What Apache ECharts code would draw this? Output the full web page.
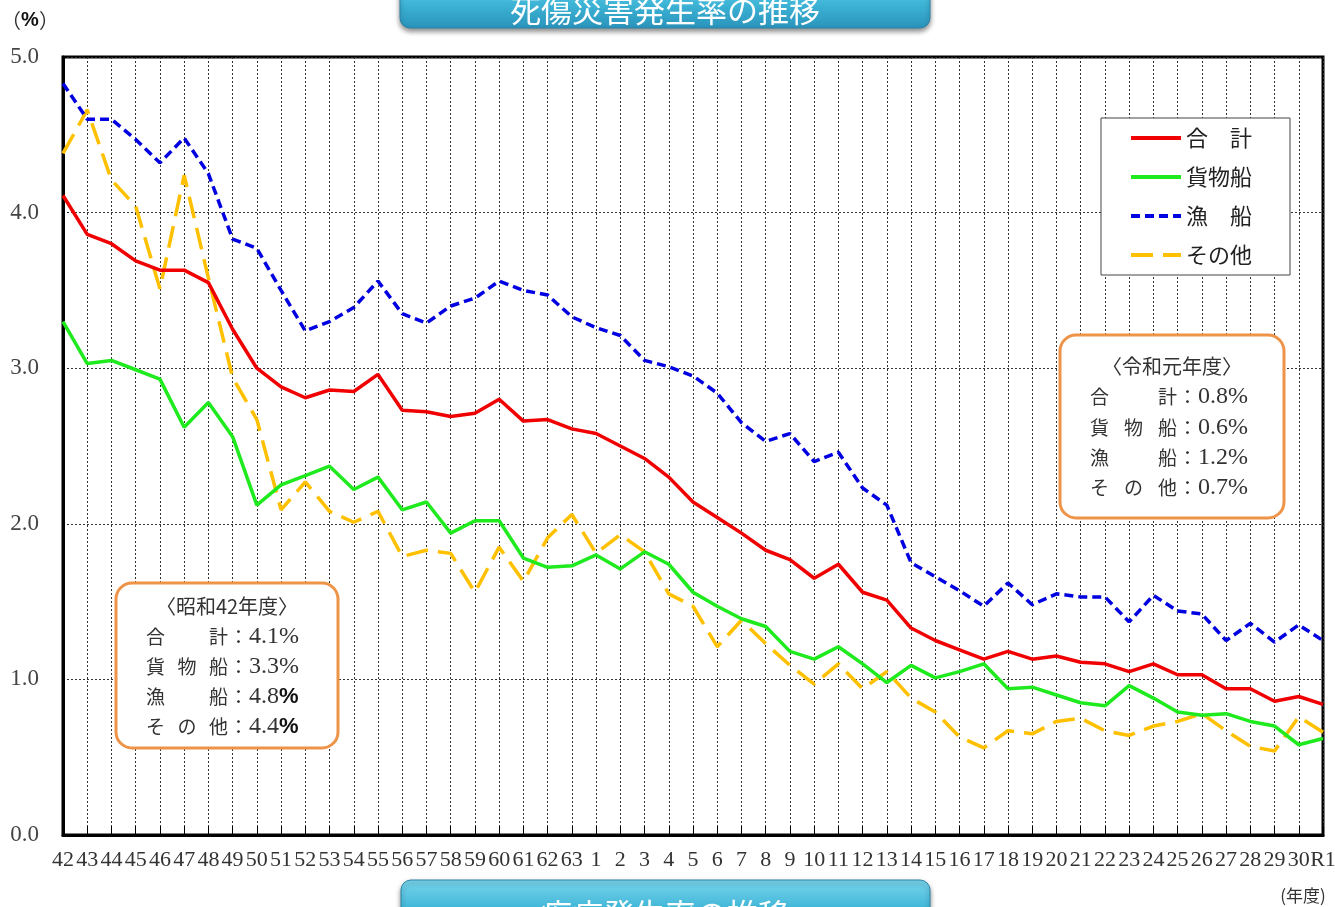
<!DOCTYPE html>
<html><head><meta charset="utf-8">
<script src="https://cdn.jsdelivr.net/npm/echarts@6/dist/echarts.min.js"></script>
<style>html,body{margin:0;padding:0;background:#fff}#c{width:1335px;height:907px}</style>
</head><body><div id="c"></div>
<script>
// x-axis categories (年度): 昭和42〜63, 平成1〜30, 令和元年
const categories = ['42','43','44','45','46','47','48','49','50','51','52','53','54','55','56','57','58','59','60','61','62','63',
  '1','2','3','4','5','6','7','8','9','10','11','12','13','14','15','16','17','18','19','20','21','22','23','24','25','26','27','28','29','30','R1'];

const seriesNames = ['合　計', '貨物船', '漁　船', 'その他'];

const totalRate = [4.11,3.86,3.80,3.69,3.63,3.63,3.55,3.25,3.00,2.88,2.81,2.86,2.85,2.96,2.73,2.72,2.69,2.71,2.80,2.66,2.67,2.61,
  2.58,2.50,2.42,2.30,2.14,2.04,1.94,1.83,1.77,1.65,1.74,1.56,1.51,1.33,1.25,1.19,1.13,1.18,1.13,1.15,1.11,1.10,1.05,1.10,1.03,1.03,0.94,0.94,0.86,0.89,0.84];
const cargoRate = [3.30,3.03,3.05,2.99,2.93,2.62,2.78,2.56,2.12,2.25,2.31,2.37,2.22,2.30,2.09,2.14,1.94,2.02,2.02,1.78,1.72,1.73,
  1.80,1.71,1.82,1.74,1.56,1.47,1.39,1.34,1.18,1.13,1.21,1.10,0.98,1.09,1.01,1.05,1.10,0.94,0.95,0.90,0.85,0.83,0.96,0.88,0.79,0.77,0.78,0.73,0.70,0.58,0.62];
const fishingRate = [4.83,4.60,4.60,4.47,4.32,4.48,4.25,3.83,3.77,3.50,3.24,3.30,3.39,3.56,3.35,3.29,3.40,3.45,3.56,3.50,3.47,3.33,
  3.26,3.21,3.05,3.01,2.95,2.84,2.65,2.53,2.58,2.40,2.46,2.23,2.12,1.75,1.66,1.57,1.47,1.62,1.48,1.55,1.53,1.53,1.37,1.54,1.44,1.42,1.25,1.36,1.24,1.35,1.25];
const otherRate = [4.38,4.66,4.21,4.04,3.51,4.24,3.58,2.94,2.67,2.09,2.27,2.08,2.01,2.08,1.79,1.83,1.81,1.56,1.85,1.63,1.91,2.06,
  1.81,1.93,1.82,1.55,1.47,1.21,1.38,1.23,1.09,0.97,1.10,0.94,1.05,0.88,0.79,0.63,0.56,0.67,0.65,0.73,0.75,0.67,0.64,0.70,0.73,0.78,0.67,0.57,0.54,0.76,0.66];

// text boxes
const boxR1Title = '〈令和元年度〉';
const boxR1Labels = ['合　　　計', '貨　物　船', '漁　　　船', 'そ　の　他'];
const boxR1Values = ['0.8', '0.6', '1.2', '0.7'];
const boxS42Title = '〈昭和42年度〉';
const boxS42Labels = ['合　　　計', '貨　物　船', '漁　　　船', 'そ　の　他'];
const boxS42Values = ['4.1', '3.3', '4.8', '4.4'];
const boxS42BoldPct = [false, false, true, true];

const mainTitle = '死傷災害発生率の推移';
const nextTitle = '疾病発生率の推移';

const CJK = "'Noto Sans CJK JP', sans-serif";
const SERIF = "'Liberation Serif', 'DejaVu Serif', serif";

function txt(text, x, y, font, fill, align, vAlign, extra) {
  return Object.assign({
    type: 'text', z: 100,
    style: { text: text, x: x, y: y, font: font, fill: fill,
      textAlign: align, textVerticalAlign: vAlign, align: align, verticalAlign: vAlign }
  }, extra || {});
}

function infoBox(x, y, w, h, title, labels, values, boldPct, lineYs, titleY, textX, step) {
  const els = [{
    type: 'rect', z: 90,
    shape: { x: x, y: y, width: w, height: h, r: 16 },
    style: { fill: '#fff', stroke: '#EE9448', lineWidth: 3 }
  }];
  els.push(txt(title, x + w / 2, titleY, '20px ' + CJK, '#333', 'center', 'middle'));
  labels.forEach(function (lb, i) {
    const parts = lb.split(/　+/);
    let s = '';
    if (parts.length === 3) {
      s = '{k|' + parts[0] + '}{k|' + parts[1] + '}{e|' + parts[2] + '}';
    } else {
      s = '{kk|' + parts[0] + '}{e|' + parts[1] + '}';
    }
    s += '{c|：}{v|' + values[i] + '}' + (boldPct[i] ? '{p|%}' : '{v|%}');
    els.push({
      type: 'text', z: 100,
      style: {
        text: s,
        x: textX, y: lineYs[i], align: 'left', verticalAlign: 'middle', textAlign: 'left', textVerticalAlign: 'middle',
        rich: {
          k: { fontFamily: CJK, fontSize: 19, fill: '#333', color: '#333', width: step },
          kk: { fontFamily: CJK, fontSize: 19, fill: '#333', color: '#333', width: step * 2 },
          e: { fontFamily: CJK, fontSize: 19, fill: '#333', color: '#333', width: 20 },
          c: { fontFamily: CJK, fontSize: 19, fill: '#333', color: '#333', width: 20 },
          v: { fontFamily: SERIF, fontSize: 24, fill: '#333', color: '#333' },
          p: { fontFamily: "'Liberation Sans', sans-serif", fontWeight: 'bold', fontSize: 22, fill: '#111', color: '#111' }
        }
      }
    });
  });
  return els;
}

const bannerFill = {
  type: 'linear', x: 0, y: 0, x2: 0, y2: 1,
  colorStops: [{ offset: 0, color: '#7AD6EE' }, { offset: 0.5, color: '#3DB4D6' }, { offset: 1, color: '#2A93BB' }]
};

const graphics = [
  { type: 'rect', z: 80, shape: { x: 400, y: -20, width: 530, height: 48, r: 10 },
    style: { fill: bannerFill, stroke: '#2A86A8', lineWidth: 1, shadowBlur: 5, shadowColor: 'rgba(0,0,0,0.45)', shadowOffsetY: 3 } },
  txt(mainTitle, 665, 10, '31px ' + CJK, '#fff', 'center', 'middle'),
  { type: 'rect', z: 80, shape: { x: 401, y: 880, width: 529, height: 60, r: 10 },
    style: { fill: bannerFill, stroke: '#2A86A8', lineWidth: 1, shadowBlur: 5, shadowColor: 'rgba(0,0,0,0.45)', shadowOffsetY: 3 } },
  txt(nextTitle, 665, 914, '31px ' + CJK, '#fff', 'center', 'middle'),
  {
    type: 'text', z: 100,
    style: { text: '{a|（}{b|%}{a|）}', x: 30, y: 20, align: 'center', verticalAlign: 'middle', textAlign: 'center', textVerticalAlign: 'middle',
      rich: { a: { fontFamily: CJK, fontSize: 20, fill: '#333', color: '#333' },
              b: { fontFamily: "'Liberation Sans', sans-serif", fontWeight: 'bold', fontSize: 20, fill: '#111', color: '#111' } } }
  },
  txt('(年度)', 1303, 896, '17px ' + CJK, '#333', 'center', 'middle')
].concat(
  infoBox(1060, 335, 224, 183, boxR1Title, boxR1Labels, boxR1Values, [false, false, false, false], [397, 428, 458, 488], 366, 1090, 34),
  infoBox(116, 583, 222, 165, boxS42Title, boxS42Labels, boxS42Values, boxS42BoldPct, [637, 667, 697, 727], 606, 146, 31.5)
);

const chart = echarts.init(document.getElementById('c'), null, { renderer: 'canvas' });
chart.setOption({
  animation: false,
  backgroundColor: '#fff',
  grid: { left: 63, right: 12, top: 57, bottom: 72, show: true, borderColor: '#000', borderWidth: 3, outerBoundsMode: 'none', containLabel: false },
  legend: {
    data: seriesNames, orient: 'vertical', left: 1101, top: 118,
    padding: [9, 38, 9, 28], itemGap: 17, itemWidth: 50, itemHeight: 14,
    backgroundColor: '#fff', borderColor: '#444', borderWidth: 1, selectedMode: false,
    itemStyle: { opacity: 0 },
    lineStyle: { width: 4 },
    textStyle: { fontFamily: CJK, fontSize: 22, color: '#222' }
  },
  xAxis: {
    type: 'category', data: categories, boundaryGap: false,
    axisLine: { show: true, lineStyle: { color: '#000', width: 3 } },
    axisTick: { show: true, inside: true, length: 9, interval: 0, lineStyle: { color: '#000', width: 1 } },
    axisLabel: { interval: 0, margin: 14, fontFamily: SERIF, fontSize: 22, color: '#333' },
    splitLine: { show: true, interval: 0, lineStyle: { color: '#333', type: [2, 2], width: 1 } }
  },
  yAxis: {
    type: 'value', min: 0, max: 5, interval: 1,
    axisLine: { show: true, lineStyle: { color: '#000', width: 3 } },
    axisTick: { show: false },
    axisLabel: { formatter: function (v) { return v.toFixed(1); }, fontFamily: SERIF, fontSize: 23, color: '#444', margin: 24 },
    splitLine: { show: true, lineStyle: { color: '#333', type: [2, 2], width: 1 } }
  },
  series: [
    { name: seriesNames[0], type: 'line', data: totalRate, symbol: 'none', z: 5,
      lineStyle: { color: '#F00000', width: 3.5 }, itemStyle: { color: '#F00000' } },
    { name: seriesNames[1], type: 'line', data: cargoRate, symbol: 'none', z: 4,
      lineStyle: { color: '#1EEA1E', width: 3.5 }, itemStyle: { color: '#1EEA1E' } },
    { name: seriesNames[2], type: 'line', data: fishingRate, symbol: 'none', z: 3,
      lineStyle: { color: '#0000E0', width: 3.5, type: [9, 5] }, itemStyle: { color: '#0000E0' } },
    { name: seriesNames[3], type: 'line', data: otherRate, symbol: 'none', z: 2,
      lineStyle: { color: '#FFC000', width: 3.5, type: [22, 10] }, itemStyle: { color: '#FFC000' } }
  ],
  graphic: graphics
});
</script>
</body></html>
